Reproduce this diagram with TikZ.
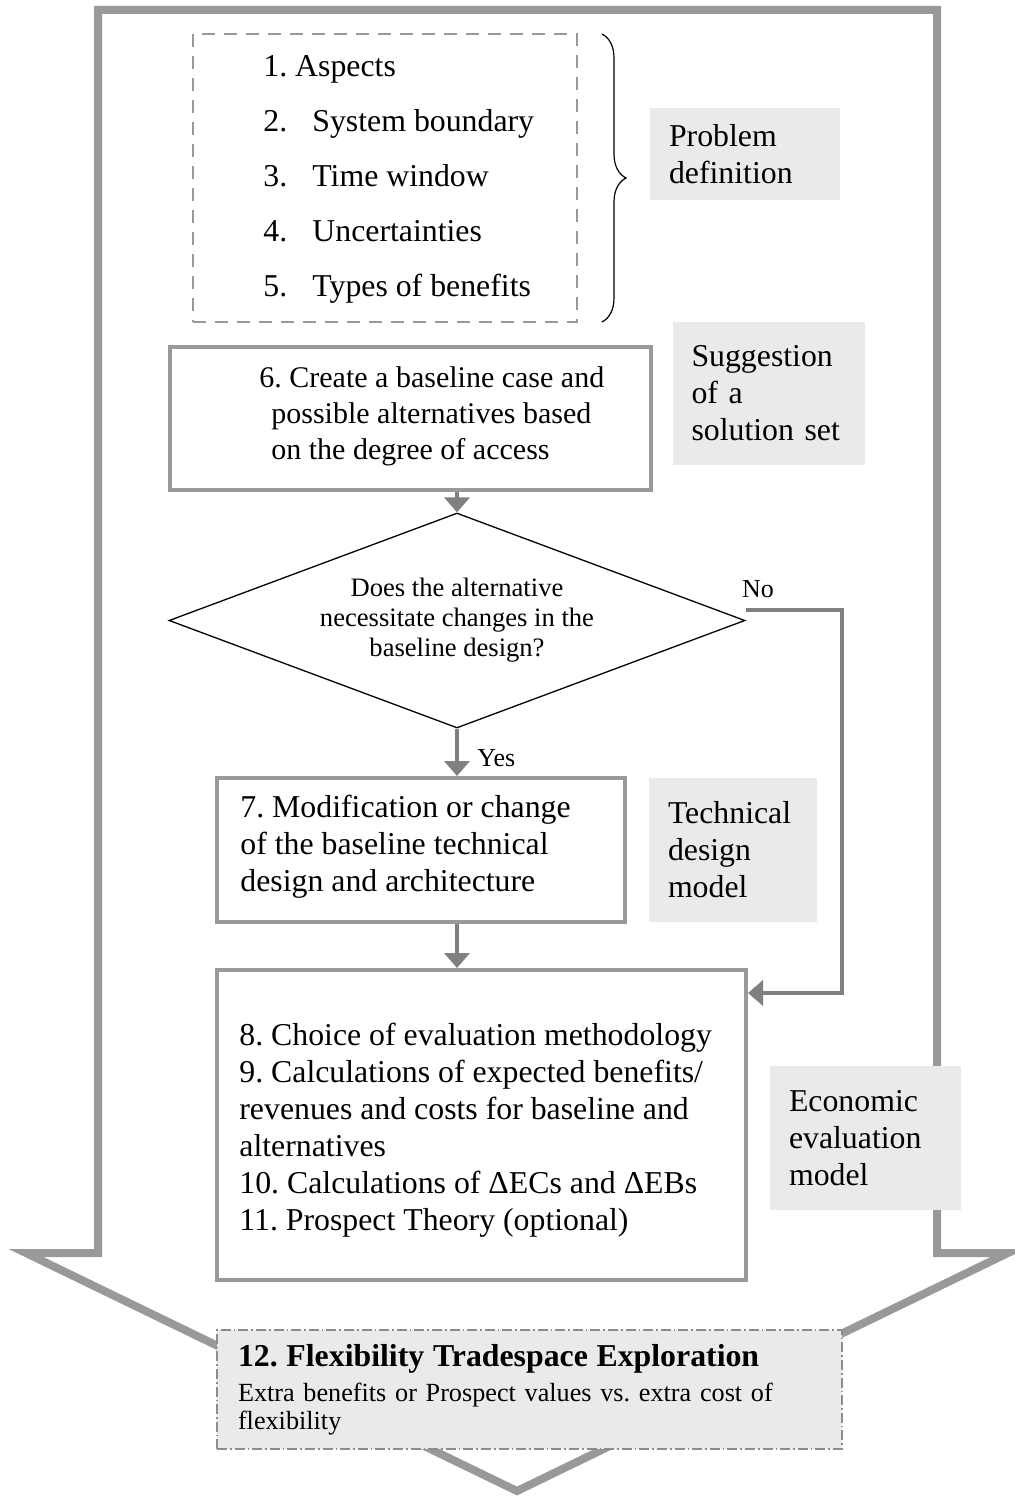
\documentclass[tikz,border=0pt]{standalone}
\usepackage{fontspec}
\setmainfont{Liberation Serif}
\usetikzlibrary{arrows.meta,shapes.geometric,decorations.pathreplacing,positioning}
\frenchspacing

\definecolor{framegray}{HTML}{999999}
\definecolor{linegray}{HTML}{808080}
\definecolor{dashgray}{HTML}{8C8C8C}
\definecolor{shade}{HTML}{EAEAEA}

\newcommand{\flowfont}{\fontsize{15.9}{18.5}\selectfont}
\newcommand{\smallflowfont}{\fontsize{15}{18}\selectfont}
\newcommand{\decfont}{\fontsize{13.3}{15}\selectfont}
\newcommand{\tagfont}{\fontsize{13}{15}\selectfont}
\newcommand{\tradefont}{\fontsize{13.1}{14}\selectfont}

\tikzset{
  bigarrow/.style={draw=framegray, line width=4pt, line join=miter},
  listframe/.style={draw=framegray, line width=1.25pt, dash pattern=on 6.5pt off 4.5pt,
    minimum width=192pt, minimum height=144pt},
  itemtext/.style={font=\flowfont, inner sep=0pt, anchor=base west},
  flowbox/.style={draw=framegray, line width=2pt},
  steptext/.style={font=\flowfont, align=left, inner sep=0pt, anchor=west},
  sidebox/.style={fill=shade, inner xsep=9.5pt, text width=#1, align=left, font=\flowfont},
  decision/.style={diamond, aspect=2.68, draw=black, line width=0.65pt, minimum width=288pt,
    minimum height=107.5pt, inner sep=0pt, align=center, font=\decfont},
  tagtext/.style={font=\tagfont, inner sep=0pt, anchor=base west},
  tradebox/.style={fill=shade, draw=dashgray, line width=0.8pt,
    dash pattern=on 5pt off 1.5pt on 0.8pt off 1.5pt, text width=291.5pt,
    inner xsep=10.5pt, minimum height=59.5pt, align=left, font=\tradefont},
  flow/.style={draw=linegray, line width=2pt, -{Triangle[width=12.5pt,length=7.5pt]}},
  bracket/.style={decorate, decoration={brace, amplitude=12pt}, line width=0.6pt},
}

\begin{document}
\begin{tikzpicture}[x=0.5pt,y=-0.5pt]
\useasboundingbox (0,0) rectangle (1014,1498);

% outline arrow
\draw[bigarrow] (98,10) -- (937,10) -- (937,1253) -- (1008,1253) -- (517,1491)
  -- (26,1253) -- (98,1253) -- cycle;

% problem definition
\node[listframe] (aspects) at (385,178) {};
\node[itemtext] (item1) at (263,76.5) {1. Aspects};
\foreach \t [count=\i from 2] in {System boundary, Time window, Uncertainties, Types of benefits} {
  \node[itemtext] (num\i) at (263,{21.5+55*\i}) {\i.};
  \node[itemtext] (item\i) at (312,{21.5+55*\i}) {\t};
}
\coordinate (bracetop) at (602,34);
\coordinate (bracebot) at (602,322);
\draw[bracket] (bracetop) -- (bracebot);
\node[sidebox=76pt, minimum height=46pt] (probdef) at (745,154) {Problem\\definition};

% solution set
\node[flowbox, minimum width=240.5pt, minimum height=71.5pt] (box6) at (410.5,418.5) {};
\node[steptext, font=\smallflowfont] (t6) at ([xshift=45.5pt,yshift=1pt]box6.west) {6. Create a baseline case and\\
  \hspace*{6pt}possible alternatives based\\ \hspace*{6pt}on the degree of access};
\node[sidebox=77pt, minimum height=71.5pt] (suggest) at (768.5,393.5) {Suggestion\\of a\\solution set};

% decision
\node[decision] (dec) at (457,620.5) {Does the alternative\\necessitate changes in the\\baseline design?};
\node[tagtext] (no) at ([xshift=-2pt,yshift=11.75pt]dec.east) {No};
\node[tagtext] (yes) at ([xshift=10pt,yshift=-19pt]dec.south) {Yes};

% technical design
\node[flowbox, minimum width=204pt, minimum height=72pt] (box7) at (421,850) {};
\node[steptext] (t7) at ([xshift=12.5pt,yshift=1.5pt]box7.west) {7. Modification or change\\
  of the baseline technical\\ design and architecture};
\node[sidebox=65pt, minimum height=72pt] (techmodel) at (733,850) {Technical\\design\\model};

% economic evaluation
\node[flowbox, minimum width=264.5pt, minimum height=155pt] (box8) at (481.5,1125) {};
\node[steptext] (t8) at ([xshift=12pt,yshift=-2.5pt]box8.west) {8. Choice of evaluation methodology\\
  9. Calculations of expected benefits/\\ revenues and costs for baseline and\\ alternatives\\
  10. Calculations of ΔECs and ΔEBs\\ 11. Prospect Theory (optional)};
\node[sidebox=76.5pt, minimum height=72pt] (econmodel) at (865.5,1138) {Economic\\evaluation\\model};

% tradespace
\node[tradebox] (trade) at (529.5,1389.5) {{\flowfont\bfseries 12. Flexibility Tradespace Exploration}\\[3.5pt]
  Extra benefits or Prospect values vs. extra cost of\\ flexibility};

% connectors
\draw[flow] (box6.south -| dec.north) -- (dec.north);
\draw[flow] (dec.south) -- (dec.south |- box7.north);
\draw[flow] (box7.south -| dec.south) -- (box8.north -| dec.south);
\coordinate (noturn) at (842,993);
\draw[flow] ([yshift=5.25pt]dec.east) -| (noturn) -- (noturn -| box8.east);
\end{tikzpicture}
\end{document}
